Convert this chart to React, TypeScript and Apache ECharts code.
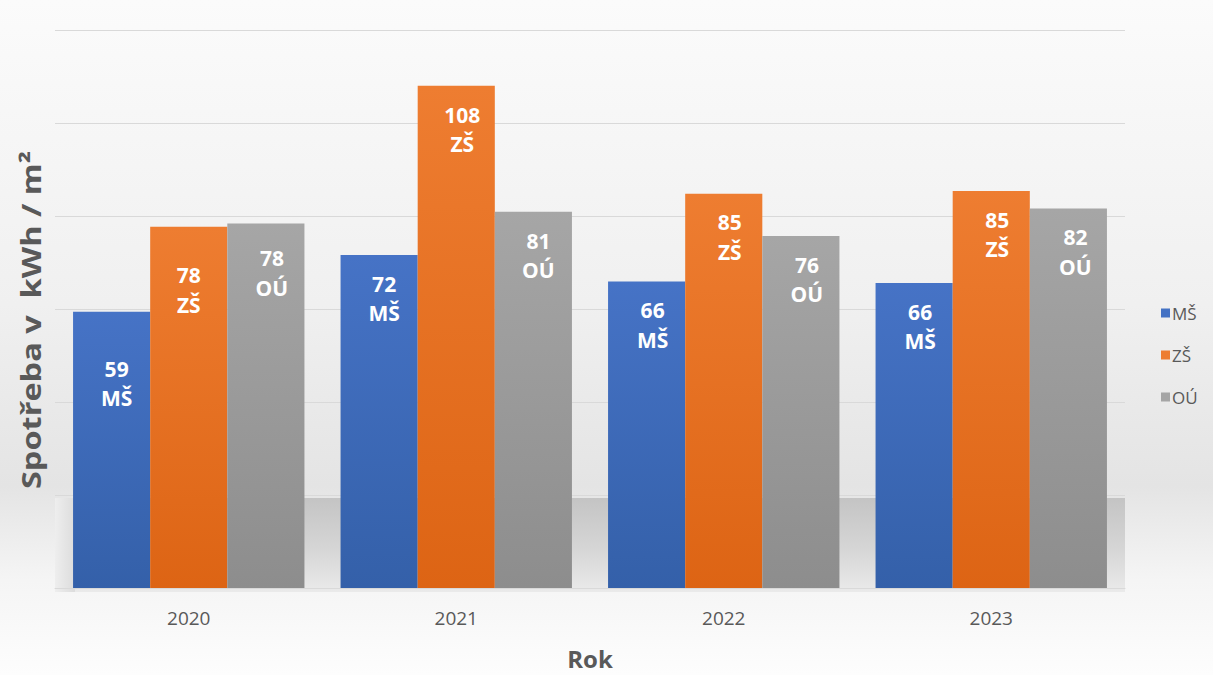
import React, { useEffect, useRef } from "react";
import * as echarts from "echarts";

const categories = ["2020", "2021", "2022", "2023"];
const seriesNames = ["MŠ", "ZŠ", "OÚ"];
const msValues = [59.4, 71.6, 65.9, 65.6];
const zsValues = [77.7, 108.0, 84.8, 85.4];
const ouValues = [78.4, 80.9, 75.7, 81.6];
const yAxisTitle = "Spotřeba v  kWh / m²";
const xAxisTitle = "Rok";

// style: per-bar label nudges [dx, dy]
const msLabelShift = [[5, 28], [5, 0], [6, 0], [6, 0]];
const zsLabelShift = [[0, 20], [6, 0], [6, 0], [6, 0]];
const ouLabelShift = [[6, 6], [5, 0], [6, 0], [7, 0]];

const FONT = "'Open Sans', 'Noto Sans', sans-serif";
const TEXT_GRAY = "#595959";

function grad(top: string, bottom: string) {
  return new echarts.graphic.LinearGradient(0, 0, 0, 1, [
    { offset: 0, color: top },
    { offset: 1, color: bottom },
  ]);
}

export default function App() {
  const ref = useRef<HTMLDivElement>(null);

  useEffect(() => {
    if (!ref.current) return;
    const chart = echarts.init(ref.current, undefined, { renderer: "svg" });

    const makeData = (vals: number[], shifts: number[][]) =>
      vals.map((v, i) => ({
        value: v,
        label: { offset: shifts[i] },
      }));

    const label = {
      show: true,
      position: "insideTop" as const,
      distance: 14,
      color: "#ffffff",
      fontFamily: FONT,
      fontWeight: "bold" as const,
      fontSize: 21,
      lineHeight: 29.5,
      formatter: (p: any) => `${Math.round(p.value)}\n${p.seriesName}`,
    };

    const gridLeft = 55;
    const gridRight = 1125;
    const gridTop = 30;
    const gridBottom = 592;
    const floorTop = 498;

    const option: any = {
      animation: false,
      backgroundColor: new echarts.graphic.LinearGradient(0, 0, 0, 1, [
        { offset: 0, color: "#fbfbfb" },
        { offset: 0.45, color: "#f0f0f0" },
        { offset: 0.72, color: "#e4e4e4" },
        { offset: 0.86, color: "#f5f5f5" },
        { offset: 1, color: "#fdfdfd" },
      ]),
      grid: {
        left: gridLeft,
        right: 1213 - gridRight,
        top: gridTop,
        bottom: 675 - gridBottom,
      },
      graphic: [
        {
          type: "rect",
          z: -10,
          silent: true,
          shape: { x: gridLeft, y: floorTop, width: gridRight - gridLeft, height: gridBottom - floorTop },
          style: {
            fill: new echarts.graphic.LinearGradient(0, 0, 0, 1, [
              { offset: 0, color: "#c4c4c4" },
              { offset: 0.55, color: "#d6d6d6" },
              { offset: 1, color: "#eaeaea" },
            ]),
          },
        },
        {
          type: "rect",
          z: -9,
          silent: true,
          shape: { x: gridLeft, y: floorTop, width: 20, height: gridBottom - floorTop },
          style: {
            fill: new echarts.graphic.LinearGradient(0, 0, 1, 0, [
              { offset: 0, color: "#eeeeee" },
              { offset: 1, color: "#dcdcdc" },
            ]),
          },
        },
        {
          type: "text",
          x: 31,
          y: 320,
          rotation: Math.PI / 2,
          scaleX: 1.25,
          scaleY: 1.0,
          style: {
            text: yAxisTitle,
            fill: TEXT_GRAY,
            font: `bold 26px ${FONT}`,
            align: "center",
            verticalAlign: "middle",
          },
        },
      ],
      legend: {
        orient: "vertical",
        left: 1161,
        top: 304,
        itemWidth: 9,
        itemHeight: 9,
        itemGap: 24,
        padding: 0,
        icon: "rect",
        textStyle: { color: TEXT_GRAY, fontSize: 17, fontFamily: FONT, lineHeight: 18, padding: [0, 0, 0, -3] },
        data: [
          { name: seriesNames[0], itemStyle: { color: "#4472C4" } },
          { name: seriesNames[1], itemStyle: { color: "#ED7D31" } },
          { name: seriesNames[2], itemStyle: { color: "#A5A5A5" } },
        ],
      },
      xAxis: {
        type: "category",
        data: categories,
        axisTick: { show: false },
        axisLine: { lineStyle: { color: "#d9d9d9", width: 1 } },
        axisLabel: { color: TEXT_GRAY, fontSize: 19, fontFamily: FONT, margin: 20 },
        name: xAxisTitle,
        nameLocation: "middle",
        nameGap: 58,
        nameTextStyle: { color: TEXT_GRAY, fontSize: 24, fontWeight: "bold", fontFamily: FONT },
      },
      yAxis: {
        type: "value",
        min: 0,
        max: 120,
        interval: 20,
        axisLabel: { show: false },
        axisLine: { show: false },
        axisTick: { show: false },
        splitLine: { lineStyle: { color: "#d9d9d9", width: 1 } },
      },
      series: [
        {
          name: seriesNames[0],
          type: "bar",
          barGap: "0%",
          barCategoryGap: "13.5%",
          itemStyle: { color: grad("#4673C6", "#3460A9") },
          label,
          data: makeData(msValues, msLabelShift),
        },
        {
          name: seriesNames[1],
          type: "bar",
          itemStyle: { color: grad("#EE7D31", "#DD6414") },
          label,
          data: makeData(zsValues, zsLabelShift),
        },
        {
          name: seriesNames[2],
          type: "bar",
          itemStyle: { color: grad("#A6A6A6", "#8D8D8D") },
          label,
          data: makeData(ouValues, ouLabelShift),
        },
      ],
    };

    chart.setOption(option);
    return () => chart.dispose();
  }, []);

  return (
    <div
      ref={ref}
      style={{ position: "absolute", left: 0, top: 0, width: 1213, height: 675 }}
    />
  );
}
